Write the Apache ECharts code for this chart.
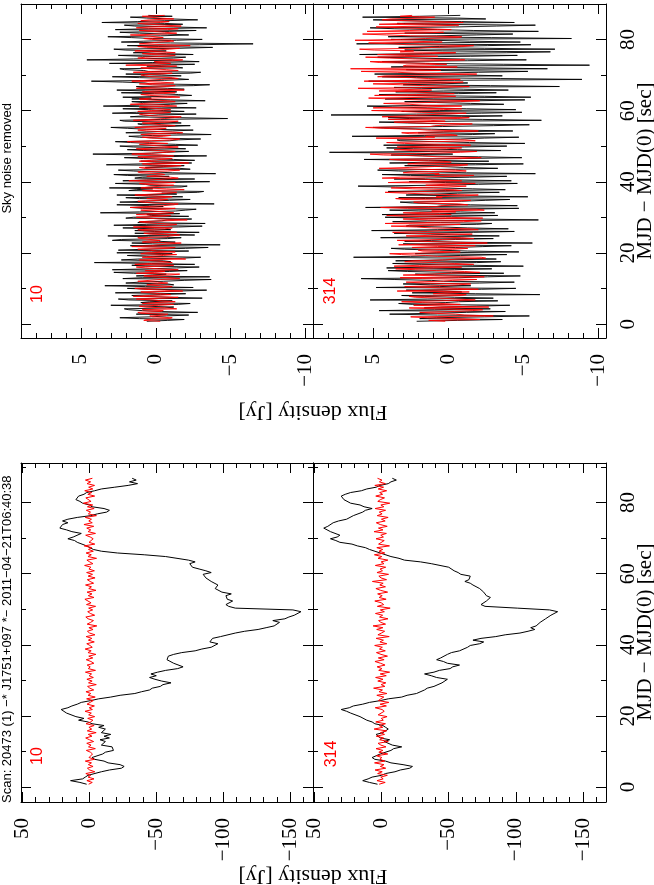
<!DOCTYPE html>
<html><head><meta charset="utf-8">
<script src="https://cdn.jsdelivr.net/npm/echarts@6/dist/echarts.min.js"></script>
<style>html,body{margin:0;padding:0;background:#fff}#c{width:654px;height:885px}</style>
</head><body><div id="c"></div>
<script>
// sampling: t = T0 + i*DT seconds (lower row), T0 + i*DT_U (upper row)
const T0 = 0.8, DT = 0.5, DT_U = 0.25;

// tick values
const upperFluxTicks = [-10, -5, 0, 5];
const upperFluxMinor = [-9,-8,-7,-6,-4,-3,-2,-1,1,2,3,4,6,7,8];
const lowerFluxTicks = [-150, -100, -50, 0, 50];
const lowerFluxMinor = [-160,-140,-130,-120,-110,-90,-80,-70,-60,-40,-30,-20,-10,10,20,30,40];
const timeTicks = [0, 20, 40, 60, 80];
const timeMinor = [10, 30, 50, 70, 90];

// axis ranges
const upperFluxRange = [-10.5, 9];
const lowerFluxRange = [-167, 51];
const upperTimeRange = [-3.9, 90];
const lowerTimeRange = [-4.2, 91.1];

// Lower row (raw), channel 10
const LL_black = [2,7,14,5,3,1,2,-9,-15,-24,-26,-23,-14,-11,-4,-2,-3,-10,-12,-18,
-19,-17,-9,-10,-12,-8,-15,-11,-16,-9,-10,-12,-7,-11,-2,1,8,4,10,11,
17,18,21,16,13,9,6,-1,-7,-16,-23,-34,-39,-45,-47,-53,-55,-61,-54,-49,
-45,-50,-46,-51,-57,-66,-70,-69,-63,-62,-58,-59,-59,-63,-69,-79,-84,-91,-92,-96,
-90,-89,-92,-98,-99,-109,-116,-126,-132,-138,-138,-142,-137,-146,-149,-153,-154,-158,-152,-109,
-104,-102,-102,-107,-103,-102,-102,-106,-99,-98,-94,-95,-96,-97,-91,-90,-87,-86,-85,-91,
-87,-82,-77,-76,-75,-79,-74,-74,-57,-41,-21,-9,-3,-2,2,3,9,11,16,12,
11,6,13,17,22,21,20,16,20,16,9,-1,-6,-13,-15,-11,-2,0,5,7,
10,9,8,4,2,-4,-9,-19,-29,-36,-30,-35,-32];
const LL_red = [0.5,-2.2,1.8,-3.5,0.9,-1.0,2.6,-4.1,-0.3,1.4,
-2.8,0.7,-1.6,3.0,-3.9,0.2,1.1,-2.4,-0.8,2.2,
-4.5,0.6,-1.3,1.9,-3.2,-0.1,2.7,-2.0,0.8,-5.1,
1.5,-1.8,0.3,-3.6,2.4,-0.9,-2.7,1.2,-4.0,0.5,
-1.5,3.2,-2.3,0.1,-3.8,1.7,-0.6,-2.9,2.0,-4.4,
0.9,-1.1,2.5,-3.3,-0.4,1.3,-5.2,0.6,-2.1,1.8,
-3.0,0.2,-1.7,2.9,-4.6,0.8,-0.7,1.6,-3.4,-1.2,
2.3,-2.6,0.4,-4.9,1.0,-1.4,3.1,-2.2,-0.5,1.9,
-3.7,0.7,-1.9,2.4,-4.2,-0.2,1.4,-2.8,0.3,-5.6,
1.6,-1.0,-3.1,0.9,2.6,-4.0,-0.8,1.2,-2.5,0.5,
-4.7,2.1,-1.3,-0.1,3.3,-3.5,0.8,-2.0,1.7,-5.0,
0.4,-1.6,2.8,-3.2,-0.6,1.5,-4.3,0.9,-2.4,2.0,
-3.8,0.3,-1.2,3.5,-2.7,-0.3,1.8,-5.4,1.0,-1.5,
2.4,-3.0,0.6,-1.8,3.8,-4.1,0.2,1.3,-2.9,-0.7,
2.7,-4.6,0.9,-1.1,1.9,-3.3,4.0,-2.2,0.4,-1.6,
3.0,-5.3,0.7,-0.9,2.2,-3.6,1.4,-2.5,4.4,-1.3,
-0.2,2.6,-4.0,1.1,-1.8,3.4,-2.6,0.5,-3.9,1.7,
-1.0,2.9,-2.3];

// Lower row (raw), channel 314
const LR_black = [3,9,14,10,7,0,-3,-10,-14,-21,-23,-16,-7,-3,5,7,6,1,1,-7,
-9,-15,-8,-7,-2,-6,1,1,4,-1,-1,-5,-3,-1,5,7,11,11,16,15,
23,26,30,24,21,14,9,1,-5,-15,-19,-26,-27,-32,-34,-39,-40,-45,-45,-49,
-41,-37,-32,-39,-43,-51,-53,-58,-49,-46,-41,-44,-44,-49,-52,-58,-59,-64,-66,-73,
-76,-68,-74,-85,-92,-103,-109,-114,-111,-115,-114,-118,-118,-122,-122,-126,-126,-131,-125,-101,
-77,-74,-73,-78,-78,-81,-78,-79,-76,-77,-73,-74,-68,-66,-62,-65,-65,-66,-59,-57,
-54,-54,-50,-49,-37,-29,-17,-13,-7,-6,1,2,9,12,18,22,31,34,38,33,
31,32,38,39,43,40,40,36,32,26,25,21,20,14,12,7,13,16,23,24,
28,27,30,27,23,15,11,4,1,-5,-7,-11,-8];
const LR_red = [1.8,-2.7,3.4,-1.2,0.6,-4.3,2.9,-0.5,4.8,-3.1,
0.9,-1.8,5.2,-2.4,1.3,-0.2,3.7,-4.6,2.0,-1.0,
4.1,-3.3,0.5,2.6,-5.0,1.4,-1.5,3.9,-2.2,0.8,
-3.8,5.5,-0.9,1.7,-2.9,4.3,-1.3,0.2,-4.1,2.5,
3.0,-2.0,-0.4,4.7,-3.6,1.1,-5.4,2.3,0.6,-1.7,
3.5,-4.0,1.9,-0.7,5.9,-2.5,0.3,-3.2,2.8,-1.1,
4.4,-3.5,1.0,-6.0,2.1,-0.3,3.3,-2.6,0.7,4.9,
-1.9,2.4,-4.4,0.4,3.8,-2.8,1.6,-0.6,5.1,-3.9,
1.2,-1.4,4.0,-5.7,2.7,0.1,-2.3,3.6,-1.0,6.3,
-3.0,0.5,2.2,-4.8,1.5,-0.8,4.5,-2.1,0.9,-6.4,
3.1,-1.6,0.2,5.0,-3.4,1.8,-0.5,2.9,-4.5,0.7,
4.2,-2.9,1.3,-1.2,6.8,-3.7,0.4,2.0,-5.2,3.4,
-0.7,1.1,-3.1,4.6,-1.8,0.3,-4.7,2.6,-0.2,5.3,
-2.4,1.9,-0.9,3.5,-5.9,2.2,0.8,-2.0,4.1,-1.4,
0.6,-3.6,5.6,-1.1,2.3,-4.2,1.0,3.9,-2.7,0.1,
-4.9,3.2,-0.4,1.7,-3.0,4.8,-1.7,0.5,-6.1,2.8,
0.9,-2.2,4.3,-0.8,1.4,-3.8,2.5,-1.5,5.0,-2.9,
1.6,-0.3,3.0];

// Upper row (sky noise removed), channel 10
const UL_black = [0.6,-0.8,-1.9,1.1,2.4,0.3,-0.7,-2.2,1.3,0.5,-2.8,-0.4,0.9,1.8,2.1,-0.6,-1.2,0.8,3.0,-1.5,
-2.3,1.0,0.4,-1.1,1.8,2.5,-3.1,-0.9,0.8,1.6,-0.3,-2.0,2.7,0.2,-1.6,-3.4,0.5,1.9,-2.5,0.7,
3.4,-1.2,-0.8,2.0,1.1,-0.5,-1.9,-3.7,2.2,0.9,-3.6,1.3,0.2,-0.7,1.5,2.8,-0.9,-2.1,2.9,0.4,
-1.4,-2.9,0.7,1.6,-2.6,0.3,4.1,-1.0,-0.5,2.3,1.2,-1.8,-3.0,0.6,1.9,-0.4,-1.1,2.6,0.3,-2.2,
2.5,0.8,-2.0,-3.5,0.9,1.7,-4.3,0.2,1.6,-1.3,-0.2,2.9,2.3,-0.8,-1.7,0.5,3.2,-2.6,-0.6,1.4,
-2.9,0.1,1.4,-1.0,0.1,2.2,-1.5,-3.1,2.8,0.6,-3.3,1.2,1.0,-0.4,-0.8,-2.4,2.0,1.5,-2.2,0.3,
0.6,-1.6,3.7,1.1,-1.3,-2.0,-2.7,0.9,1.7,-0.5,0.4,2.6,-3.9,-1.2,2.4,0.7,-0.9,-2.3,1.1,2.0,
-1.8,0.5,2.6,-1.4,-0.4,-2.8,-3.2,1.8,1.3,0.2,3.1,-1.7,-2.1,0.4,0.7,2.7,-1.0,-3.6,2.2,0.6,
-2.6,1.4,0.9,-0.9,1.9,2.8,-4.0,-1.1,0.3,1.5,2.5,-2.3,-1.6,0.7,-0.5,-1.9,3.3,1.0,-2.4,0.1,
1.0,-2.6,-1.2,0.8,2.1,-0.4,-3.4,1.2,4.2,0.3,-0.7,-2.2,0.8,1.9,-2.0,-0.6,1.5,2.4,-2.8,-1.3,
0.4,1.7,2.7,-0.9,-1.5,-3.0,-0.3,1.1,1.8,0.2,-3.7,-1.4,2.0,0.6,-1.1,-2.5,0.6,1.9,3.0,-0.8,
-2.3,0.9,1.2,-1.7,-0.6,2.1,2.4,-0.3,-4.8,-1.6,1.7,0.8,-0.2,-2.7,2.9,1.3,-1.9,-0.5,0.5,2.2,
-2.7,-0.4,3.5,1.1,-1.0,-2.1,0.9,1.6,-3.3,-1.0,1.6,0.3,2.2,-0.8,-2.4,-1.5,0.1,2.3,-1.4,0.7,
2.6,-1.9,-0.8,1.0,1.3,-2.5,-3.6,0.4,0.7,2.2,4.3,-0.6,-2.2,-1.3,1.1,2.9,-1.7,-0.4,2.0,-2.3,
-3.0,0.5,0.8,2.1,2.4,-1.8,-1.3,0.6,-0.4,-2.6,3.1,0.2,-2.9,-1.1,4.6,1.5,-1.2,-2.0,0.9,2.5,
-2.5,-0.7,1.5,0.3,-0.7,2.0,2.8,-1.6,-3.8,-0.2,1.9,-2.9,-6.5,-1.0,2.3,0.8,-1.4,-3.1,0.2,1.6,
3.2,-0.3,-2.2,-0.8,1.1,2.4,-0.9,-2.7,2.7,0.5,-3.4,-1.2,1.4,2.1,-1.8,-0.6,3.6,1.2,-0.6,-2.8,
-2.9,0.6,1.7,-1.1,0.5];
const UL_red = [-0.3,0.8,0.6,-0.9,-1.1,0.2,0.4,-0.6,-0.8,1.0,1.2,-0.3,-0.5,0.9,-1.4,-0.7,0.7,1.1,-0.2,-1.2,
0.9,0.1,-1.3,-0.4,0.2,1.3,-0.7,-1.5,1.5,0.4,-1.0,-0.2,0.3,1.0,-1.8,-0.6,0.8,1.4,-0.4,-1.1,
-1.2,0.6,0.5,-0.8,-0.1,1.2,1.1,-0.3,-1.6,-0.9,0.2,0.8,-0.9,-1.6,1.3,0.1,-0.6,0.7,-1.5,-0.2,
0.7,1.3,-0.3,-1.2,1.4,0.5,-1.1,-0.6,0.0,1.1,-2.0,-0.8,0.9,0.3,-0.5,-1.4,1.0,0.6,-1.3,-0.1,
0.4,1.2,-0.8,-1.3,1.6,0.3,-0.2,-0.9,-1.7,0.9,0.6,-0.3,-0.4,1.0,1.2,-0.7,-1.0,-1.6,0.3,0.8,
-1.4,-0.5,0.8,1.2,-0.6,-1.1,1.5,0.2,-0.9,-1.4,-0.1,0.7,1.1,-0.6,-2.1,-0.3,0.5,1.3,-0.3,-1.0,
1.3,0.4,-1.2,-0.6,0.2,1.0,-0.7,-1.3,1.7,0.6,-0.5,-1.2,-1.5,0.1,0.9,1.2,-0.2,-0.8,0.6,-0.4,
-1.1,0.5,1.4,0.2,-0.8,-1.4,0.1,0.9,-1.9,-0.7,1.0,0.4,-0.4,-1.2,0.7,1.1,-1.3,-0.2,1.8,0.3,
-0.6,-1.5,-1.0,0.6,0.5,-0.6,-0.3,1.0,1.2,-0.8,-1.6,-0.2,0.8,1.1,-0.9,-1.7,0.2,0.9,-2.2,-0.8,
1.1,0.3,-0.4,-1.1,0.6,1.2,-1.2,-0.3,1.6,0.5,-0.7,-1.3,-0.2,0.7,1.3,-0.5,-1.5,-0.4,0.4,1.1,
-0.8,0.4,1.9,0.3,-1.1,-1.6,0.3,0.9,-0.5,-1.0,1.0,0.2,-1.8,-0.9,0.6,1.2,-0.1,-0.7,1.4,0.5,
-1.3,-0.4,0.2,0.9,-0.9,-1.5,1.5,0.4,-0.6,-1.2,-1.7,0.2,0.8,1.1,-0.3,-1.0,1.2,0.3,-1.0,-0.2,
0.5,1.1,-1.4,-0.5,1.7,0.8,-0.2,-1.3,-0.8,0.4,1.1,0.2,-1.6,-1.0,0.4,1.0,-0.5,-1.3,0.9,0.1,
-1.9,-0.6,1.3,0.5,-0.7,-1.3,0.2,1.1,-1.2,-0.3,1.6,0.6,-0.4,-1.5,-1.1,0.3,0.7,1.0,-0.3,-1.1,
1.5,0.2,-1.5,-0.7,0.4,1.0,-0.6,-1.4,2.0,0.6,-1.0,-0.1,0.1,-1.2,-1.8,0.4,1.2,0.7,-0.7,-1.3,
0.3,0.9,-1.3,-0.5,1.4,0.2,-0.9,-1.6,0.6,1.2,-2.3,-0.7,1.1,0.4,-0.2,-1.2,-1.0,0.3,0.8,-0.5,
-0.5,0.6,1.7,-0.4,-1.4,-0.6,0.2,1.1,-0.8,-1.5,1.3,0.5,-1.7,-0.6,0.5,1.2,-0.3,-0.9,1.0,0.4,
-1.2,-0.3,0.4,0.9,-0.6];

// Upper row (sky noise removed), channel 314
const UR_black = [2.1,-0.6,-3.6,1.9,0.8,-2.4,-5.4,0.7,3.9,1.2,-1.2,-3.8,4.6,0.9,-2.8,1.6,0.5,-1.9,-4.1,2.4,
3.3,0.2,-0.7,-3.3,5.2,1.4,-3.0,-0.4,1.6,3.1,-6.1,-1.8,2.4,-0.9,0.3,2.8,-2.2,-4.5,4.8,0.6,
-1.5,1.2,3.0,-2.1,-4.4,0.3,1.1,3.6,5.8,-0.7,-2.6,-4.8,0.9,2.2,-3.7,-0.2,2.7,4.0,-0.4,-2.9,
4.1,1.0,-5.0,-1.6,1.8,3.7,-1.9,-3.5,3.5,0.4,-3.2,-1.0,6.3,2.5,-0.8,-3.9,2.2,0.8,-4.7,-1.3,
0.6,2.9,3.8,-0.5,-2.3,-4.2,1.4,3.0,-5.6,-0.8,2.9,1.1,-0.5,-3.0,4.5,1.8,-3.4,-0.6,1.2,3.6,
-1.7,-4.4,5.1,0.7,-4.0,-1.3,0.4,2.8,2.6,-1.9,-2.9,0.5,3.7,1.4,-6.0,-2.1,1.9,4.2,-0.2,-3.3,
4.4,0.6,-3.1,-0.8,2.0,3.9,-1.0,-4.7,5.5,1.3,-4.6,-1.5,0.7,2.4,3.2,-0.9,-2.5,-4.1,1.5,3.3,
-5.3,-1.1,2.8,1.0,-0.6,-3.4,4.0,0.2,-3.8,-1.6,1.0,3.5,6.0,0.8,-2.0,-4.6,0.2,2.6,-4.2,-0.7,
3.6,1.5,-1.4,-3.9,2.5,4.4,-5.8,-1.2,1.3,3.3,4.7,-0.5,-3.3,-1.0,0.5,2.9,-1.8,-5.0,3.9,0.9,
-2.7,1.3,5.6,-0.9,-4.9,-2.0,1.7,3.8,-0.3,2.1,7.9,1.2,-3.5,-0.6,2.3,4.1,-1.1,-3.9,4.3,0.5,
-5.1,-1.4,0.9,3.2,3.4,-0.8,-2.4,-4.7,6.4,1.6,-1.6,-3.1,2.0,0.3,-4.3,-1.0,1.1,3.9,5.0,0.4,
-3.0,-5.4,0.3,2.7,4.6,-0.2,-6.2,-2.3,2.6,4.0,-0.9,-3.6,7.8,2.1,-2.2,-4.9,3.1,0.6,-4.5,-1.2,
1.4,3.7,5.4,0.2,-3.7,-1.5,0.8,2.9,-2.1,-5.1,4.2,1.0,-5.5,-2.4,2.7,4.6,-0.7,-3.2,3.5,0.3,
-4.0,-1.0,1.8,3.6,-7.4,-2.8,3.0,0.5,-1.3,2.7,5.3,-0.4,-8.9,-3.5,2.1,4.4,-3.6,-1.2,4.9,0.8,
-2.0,-5.3,0.6,2.8,-6.6,-2.1,3.8,0.9,-9.4,-3.7,1.5,3.4,4.4,-1.3,-5.2,-0.8,2.4,4.7,-1.5,-4.6,
5.9,1.7,-3.9,-6.8,0.4,2.9,-7.1,-2.4,3.3,0.6,-2.6,-5.5,6.1,1.9,-4.8,-1.4,1.0,3.8,-8.2,-2.9,
4.0,0.8,-1.9,-4.3,2.9,0.3,-6.0,-1.7,0.7,3.6,5.2,-0.5,-3.2,-5.8,1.6,3.4,-4.4,-0.9,3.1,5.0,
-2.5,-0.6,5.7,1.9,-0.8];
const UR_red = [0.2,1.3,-2.1,-0.6,1.4,2.5,-3.0,-1.1,-0.5,0.9,1.9,-0.4,-1.6,-2.3,0.8,2.6,-2.7,0.1,2.3,-0.8,
-0.9,1.7,3.1,0.4,-1.8,-0.5,0.5,2.2,2.6,-0.9,-1.2,1.0,0.1,-1.4,3.4,1.2,-2.0,-0.6,1.2,2.9,
0.6,-0.7,-1.5,1.6,2.8,0.5,-0.3,-1.9,1.7,3.2,-2.4,0.4,3.0,1.1,0.0,-2.1,-1.1,0.8,2.2,3.5,
1.0,-0.9,3.6,1.9,-1.7,-0.4,0.8,2.9,2.4,0.2,-0.6,-2.5,-2.2,0.7,1.5,3.1,3.9,0.9,-0.8,1.7,
2.0,-0.3,-1.3,2.4,0.7,-1.8,3.3,1.0,-2.6,-0.2,1.9,3.4,0.4,-1.7,-0.9,1.2,2.8,0.1,-1.6,2.5,
3.7,1.4,0.3,-2.0,-1.4,1.1,2.1,3.8,0.9,-0.8,4.2,1.6,-1.0,-2.2,1.3,3.0,-2.3,0.2,2.6,4.1,
-0.2,1.8,3.0,-0.5,1.1,-2.4,-1.9,2.7,4.5,0.8,0.5,-1.3,-0.7,1.9,2.3,-0.6,-1.5,3.0,3.5,0.4,
0.8,-1.1,-2.0,1.3,2.7,4.2,1.4,-0.9,-0.4,2.4,3.8,0.0,-1.2,1.5,0.2,-1.8,4.0,2.1,-0.9,1.1,
1.6,4.4,3.2,-0.4,-1.7,0.9,0.6,3.0,2.5,-1.2,-0.5,1.8,4.6,2.6,1.0,-0.7,-1.3,2.7,2.0,-0.2,
0.4,2.8,3.9,-0.9,-2.2,0.7,1.8,4.3,5.2,1.1,-0.8,-1.9,2.4,3.6,0.1,-0.9,3.4,1.5,-1.5,0.6,
2.9,4.1,0.7,-1.8,-1.1,2.3,4.8,0.9,1.5,-0.6,-0.3,2.6,3.1,0.3,-2.0,1.4,2.2,4.3,5.5,1.2,
0.9,-0.7,-1.6,2.1,3.6,0.2,1.2,4.0,-0.6,-1.4,4.4,2.9,2.0,0.1,-1.2,1.8,3.0,5.1,0.3,-0.9,
5.0,2.3,-0.9,1.6,2.6,4.3,1.4,-0.8,-2.1,1.9,3.8,5.3,0.6,-0.5,4.9,2.1,-0.4,1.2,2.2,4.6,
1.1,3.4,6.0,0.8,-1.4,1.7,3.2,5.0,0.2,-1.0,5.6,2.6,-0.8,1.3,2.5,4.7,4.2,0.6,-1.9,2.0,
3.4,5.8,0.5,2.4,6.5,1.5,-0.6,3.0,2.8,0.1,1.3,4.6,5.2,1.0,-1.1,2.2,3.9,5.5,0.7,2.9,
4.7,1.1,-0.5,3.2,2.3,4.9,5.9,2.0,1.0,-0.9,-1.7,2.8,3.6,5.3,0.4,2.4,6.2,3.1,1.5,-0.6,
-0.9,2.5,4.1,5.7,2.0,0.3,5.4,2.6,-0.2,1.4,3.0,4.8,1.2,-0.7,4.6,2.9,-1.0,0.8,2.7,4.4,
3.8,1.6,0.9,3.2,2.4];

const chart = echarts.init(document.getElementById('c'), null, {renderer: 'canvas'});

const AX = {color: '#000', width: 1};
const SERIF = 'Liberation Serif';
function minusFmt(v) { return v < 0 ? '\u2212' + (-v) : String(v); }

const grids = [], xAxes = [], yAxes = [], series = [];

function addPanel(rect, fluxRange, timeRange, fMaj, fMin, showTimeLabels, blackData, redData, dt, lw) {
  const g = grids.length;
  grids.push({left: rect[0], top: rect[1], width: rect[2], height: rect[3], containLabel: false, outerBoundsMode: 'none'});
  const xi = xAxes.length, yi = yAxes.length;
  const xb = {gridIndex: g, type: 'value', min: fluxRange[0], max: fluxRange[1], inverse: true, splitLine: {show: false}};
  const yb = {gridIndex: g, type: 'value', min: timeRange[0], max: timeRange[1], splitLine: {show: false}};
  xAxes.push(Object.assign({}, xb, {position: 'bottom',
    axisLine: {show: true, onZero: false, lineStyle: AX},
    axisTick: {show: true, inside: true, length: 10, lineStyle: AX, customValues: fMaj},
    axisLabel: {show: true, customValues: fMaj, rotate: 90, align: 'right', verticalAlign: 'middle', margin: 16,
      color: '#000', fontFamily: SERIF, fontSize: 21, formatter: minusFmt}}));
  xAxes.push(Object.assign({}, xb, {position: 'bottom',
    axisLine: {show: false, onZero: false},
    axisTick: {show: true, inside: true, length: 5, lineStyle: AX, customValues: fMin},
    axisLabel: {show: false}}));
  xAxes.push(Object.assign({}, xb, {position: 'top',
    axisLine: {show: true, onZero: false, lineStyle: AX},
    axisTick: {show: true, inside: true, length: 10, lineStyle: AX, customValues: fMaj},
    axisLabel: {show: false}}));
  xAxes.push(Object.assign({}, xb, {position: 'top',
    axisLine: {show: false, onZero: false},
    axisTick: {show: true, inside: true, length: 5, lineStyle: AX, customValues: fMin},
    axisLabel: {show: false}}));
  yAxes.push(Object.assign({}, yb, {position: 'left',
    axisLine: {show: true, onZero: false, lineStyle: AX},
    axisTick: {show: true, inside: true, length: 10, lineStyle: AX, customValues: timeTicks},
    axisLabel: {show: false}}));
  yAxes.push(Object.assign({}, yb, {position: 'left',
    axisLine: {show: false, onZero: false},
    axisTick: {show: true, inside: true, length: 5, lineStyle: AX, customValues: timeMinor},
    axisLabel: {show: false}}));
  yAxes.push(Object.assign({}, yb, {position: 'right',
    axisLine: {show: true, onZero: false, lineStyle: AX},
    axisTick: {show: true, inside: true, length: 10, lineStyle: AX, customValues: timeTicks},
    axisLabel: showTimeLabels ? {show: true, customValues: timeTicks, rotate: 90, align: 'center', verticalAlign: 'top', margin: 12,
      color: '#000', fontFamily: SERIF, fontSize: 21} : {show: false}}));
  yAxes.push(Object.assign({}, yb, {position: 'right',
    axisLine: {show: false, onZero: false},
    axisTick: {show: true, inside: true, length: 5, lineStyle: AX, customValues: timeMinor},
    axisLabel: {show: false}}));

  const toPts = arr => arr.map((f, i) => [f, +(T0 + i * dt).toFixed(3)]);
  series.push({type: 'line', xAxisIndex: xi, yAxisIndex: yi, data: toPts(blackData), showSymbol: false, symbol: 'none',
    lineStyle: {color: '#000', width: lw}, silent: true, animation: false, z: 2});
  series.push({type: 'line', xAxisIndex: xi, yAxisIndex: yi, data: toPts(redData), showSymbol: false, symbol: 'none',
    lineStyle: {color: '#ff0000', width: lw}, silent: true, animation: false, z: 3});
}

addPanel([21, 4, 292, 334], upperFluxRange, upperTimeRange, upperFluxTicks, upperFluxMinor, false, UL_black, UL_red, DT_U, 0.9);
addPanel([313, 4, 293, 334], upperFluxRange, upperTimeRange, upperFluxTicks, upperFluxMinor, true, UR_black, UR_red, DT_U, 0.9);
addPanel([21, 463, 292, 339], lowerFluxRange, lowerTimeRange, lowerFluxTicks, lowerFluxMinor, false, LL_black, LL_red, DT, 1);
addPanel([313, 463, 293, 339], lowerFluxRange, lowerTimeRange, lowerFluxTicks, lowerFluxMinor, true, LR_black, LR_red, DT, 1);

function txt(x, y, rot, text, font, fill, align, valign) {
  return {type: 'text', x: x, y: y, rotation: rot, silent: true,
    style: {text: text, font: font, fill: fill, align: align, verticalAlign: valign,
            textAlign: align, textVerticalAlign: valign}};
}
const R90 = Math.PI / 2;
const graphic = [
  txt(7, 803, R90, 'Scan: 20473 (1) \u2212* J1751+097 *\u2212 2011\u221204\u221221T06:40:38', '13px "Liberation Sans"', '#000', 'left', 'middle'),
  txt(7, 103, R90, 'Sky noise removed', '13px "Liberation Sans"', '#000', 'right', 'middle'),
  txt(38, 294, R90, '10', '16px "Liberation Sans"', '#ff0000', 'center', 'middle'),
  txt(331, 291, R90, '314', '16px "Liberation Sans"', '#ff0000', 'center', 'middle'),
  txt(38, 756, R90, '10', '16px "Liberation Sans"', '#ff0000', 'center', 'middle'),
  txt(332, 754, R90, '314', '16px "Liberation Sans"', '#ff0000', 'center', 'middle'),
  txt(313, 412, Math.PI, 'Flux density [Jy]', '22px "Liberation Serif"', '#000', 'center', 'middle'),
  txt(313, 876, Math.PI, 'Flux density [Jy]', '22px "Liberation Serif"', '#000', 'center', 'middle'),
  txt(645, 171, R90, 'MJD \u2212 MJD(0) [sec]', '21px "Liberation Serif"', '#000', 'center', 'middle'),
  txt(645, 632, R90, 'MJD \u2212 MJD(0) [sec]', '21px "Liberation Serif"', '#000', 'center', 'middle')
];

chart.setOption({
  animation: false,
  backgroundColor: '#fff',
  grid: grids,
  xAxis: xAxes,
  yAxis: yAxes,
  series: series,
  graphic: graphic
});
</script>
</body></html>
